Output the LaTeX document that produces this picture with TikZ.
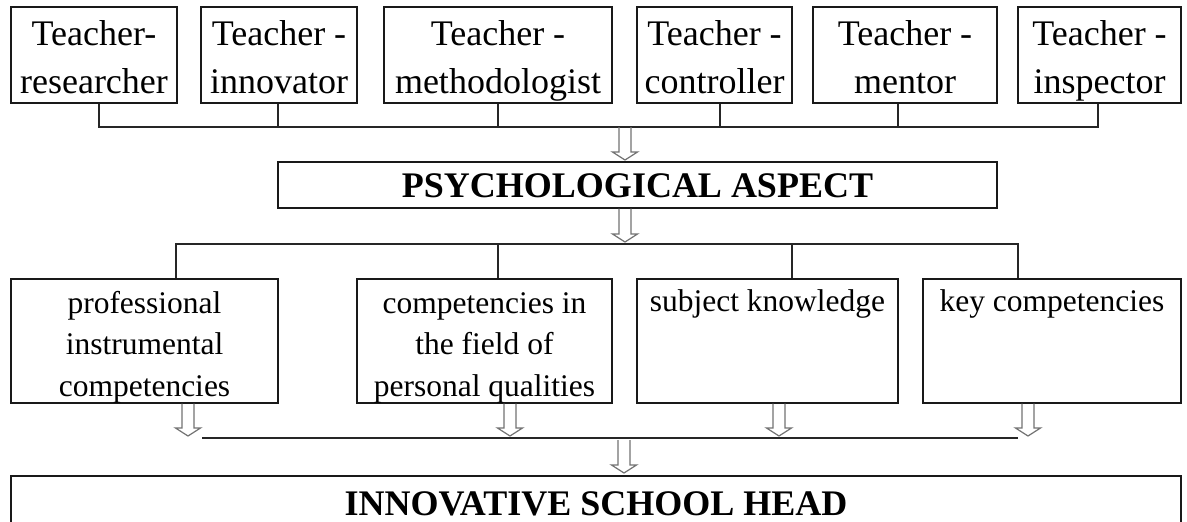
\documentclass[tikz,border=0pt]{standalone}
\usepackage{fontspec}
\setmainfont{Liberation Serif}
\usetikzlibrary{calc}
\tikzset{
  box/.style={draw=black!90, line width=1.3pt, rectangle, inner sep=0pt},
  txt/.style={inner sep=0pt, align=center, anchor=north},
  rowonefont/.style={font=\fontsize{36}{48}\selectfont},
  rowtwofont/.style={font=\fontsize{31.5}{41.5}\selectfont},
  bigfont/.style={font=\fontsize{36}{43}\selectfont\bfseries},
  conn/.style={line width=1.3pt, draw=black!85},
  harrow/.style={draw=black!55, line width=1.2pt, line join=miter},
}
\newcommand\holarrow[2]{\draw[harrow] let \p1=(#1), \p2=(#2) in
  (\x1-6pt,\y1) -- (\x1-6pt,\y2+8pt) -- (\x1-12.5pt,\y2+8pt) -- (\x1,\y2)
  -- (\x1+12.5pt,\y2+8pt) -- (\x1+6pt,\y2+8pt) -- (\x1+6pt,\y1);}
\begin{document}
\begin{tikzpicture}[x=1pt,y=-1pt]
\useasboundingbox (0,0) rectangle (1187,522);
\clip (0,0) rectangle (1187,522);
\fill[white] (0,0) rectangle (1187,522);

% top row
\node[box, minimum width=166pt, minimum height=96pt] (t1) at (94,55) {};
\node[box, minimum width=156pt, minimum height=96pt] (t2) at (279,55) {};
\node[box, minimum width=228pt, minimum height=96pt] (t3) at (498,55) {};
\node[box, minimum width=155pt, minimum height=96pt] (t4) at (714.5,55) {};
\node[box, minimum width=184pt, minimum height=96pt] (t5) at (905,55) {};
\node[box, minimum width=163pt, minimum height=96pt] (t6) at (1099.5,55) {};
\node[txt, rowonefont] (t1t) at (94,11.4) {\strut Teacher-\\\strut researcher};
\node[txt, rowonefont] (t2t) at (279,11.4) {\strut Teacher -\\\strut innovator};
\node[txt, rowonefont] (t3t) at (498,11.4) {\strut Teacher -\\\strut methodologist};
\node[txt, rowonefont] (t4t) at (714.5,11.4) {\strut Teacher -\\\strut controller};
\node[txt, rowonefont] (t5t) at (905,11.4) {\strut Teacher -\\\strut mentor};
\node[txt, rowonefont] (t6t) at (1099.5,11.4) {\strut Teacher -\\\strut inspector};

% top bus
\coordinate (j1) at (99,127);
\coordinate (j2) at (278,127);
\coordinate (j3) at (498,127);
\coordinate (j4) at (720,127);
\coordinate (j5) at (898,127);
\coordinate (j6) at (1098,127);
\draw[conn] (t1.south -| j1) -- (j1) -- (j6) -- (t6.south -| j6);
\draw[conn] (t2.south -| j2) -- (j2);
\draw[conn] (t3.south -| j3) -- (j3);
\draw[conn] (t4.south -| j4) -- (j4);
\draw[conn] (t5.south -| j5) -- (j5);

% psychological aspect
\node[box, bigfont, minimum width=719pt, minimum height=46pt, text height=24pt, text depth=0pt] (psy) at (637.5,185) {PSYCHOLOGICAL ASPECT};
\coordinate (a1) at (625,127);
\coordinate (a1e) at (625,160);
\holarrow{a1}{a1e}
\coordinate (a2e) at (625,242);
\holarrow{psy.south -| a2e}{a2e}

% second bus
\coordinate (k1) at (176,244);
\coordinate (k2) at (498,244);
\coordinate (k3) at (792,244);
\coordinate (k4) at (1018,244);

% second row
\node[box, minimum width=267pt, minimum height=124pt] (b1) at (144.5,341) {};
\node[box, minimum width=255pt, minimum height=124pt] (b2) at (484.5,341) {};
\node[box, minimum width=261pt, minimum height=124pt] (b3) at (767.5,341) {};
\node[box, minimum width=258pt, minimum height=124pt] (b4) at (1052,341) {};
\node[txt, rowtwofont] (b1t) at (144.5,284) {\strut professional\\\strut instrumental\\\strut competencies};
\node[txt, rowtwofont] (b2t) at (484.5,284) {\strut competencies in\\\strut the field of\\\strut personal qualities};
\node[txt, rowtwofont] (b3t) at (767.5,282) {\strut subject knowledge};
\node[txt, rowtwofont] (b4t) at (1052,282) {\strut key competencies};

\draw[conn] (b1.north -| k1) -- (k1) -- (k4) -- (b4.north -| k4);
\draw[conn] (b2.north -| k2) -- (k2);
\draw[conn] (b3.north -| k3) -- (k3);

% arrows from second row
\coordinate (m1) at (188,436);
\coordinate (m2) at (510,436);
\coordinate (m3) at (779,436);
\coordinate (m4) at (1028,436);
\holarrow{b1.south -| m1}{m1}
\holarrow{b2.south -| m2}{m2}
\holarrow{b3.south -| m3}{m3}
\holarrow{b4.south -| m4}{m4}

% third bus
\coordinate (n1) at (202,438);
\coordinate (n2) at (1018,438);
\draw[conn] (n1) -- (n2);
\coordinate (f1) at (624,440);
\coordinate (f1e) at (624,473);
\holarrow{f1}{f1e}

% bottom box
\node[box, bigfont, minimum width=1170pt, minimum height=54pt, text height=24pt, text depth=0pt] (head) at (596,503) {INNOVATIVE SCHOOL HEAD};
\end{tikzpicture}
\end{document}
